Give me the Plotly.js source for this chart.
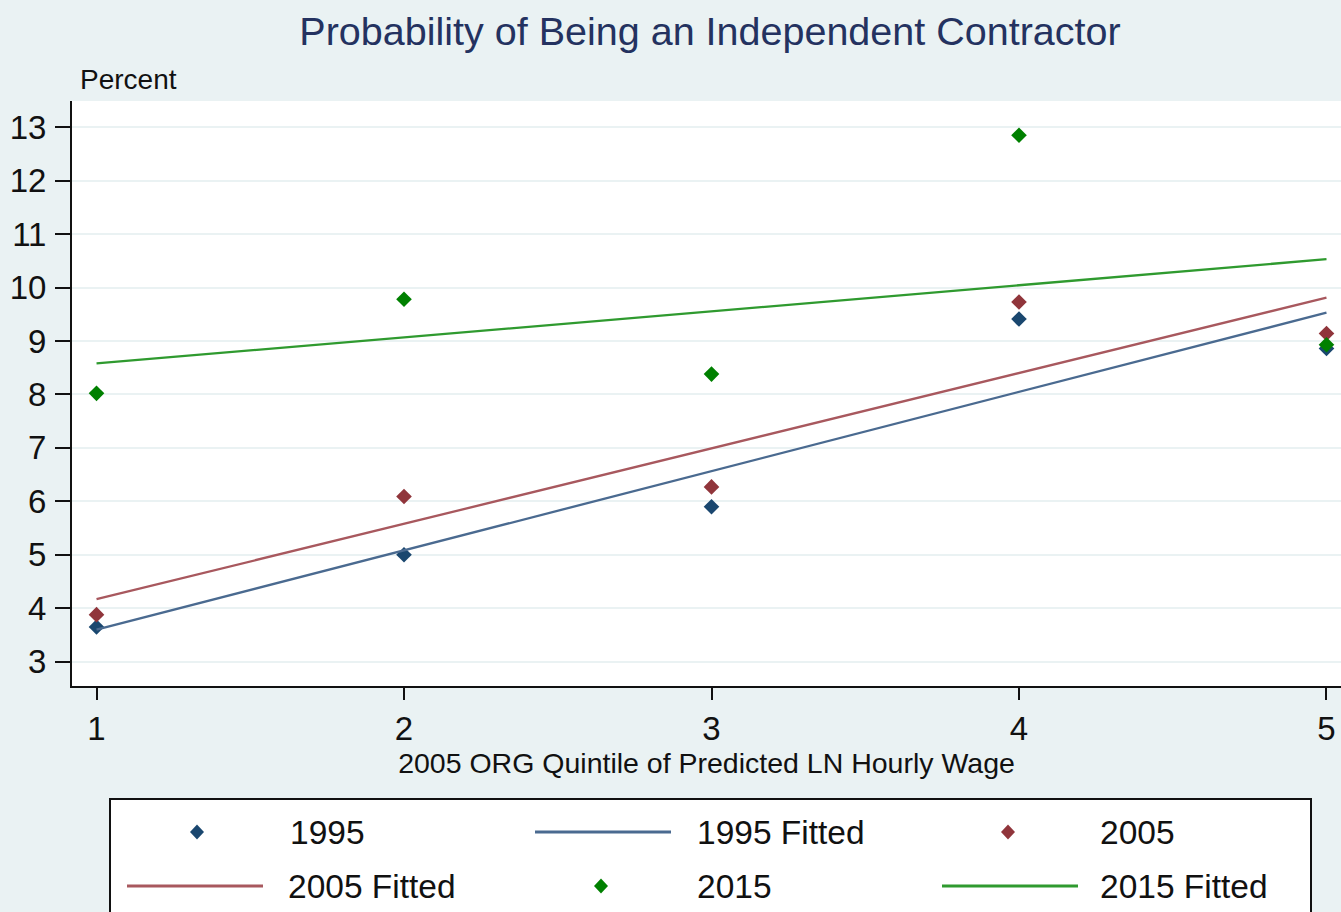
<!DOCTYPE html>
<html><head><meta charset="utf-8">
<script src="https://cdn.plot.ly/plotly-3.0.1.min.js"></script>
<style>html,body{margin:0;padding:0;background:#eaf2f3;}</style>
</head><body><div id="chart" style="width:1341px;height:912px;"></div>
<script>
// ---- data ----
const quintiles = [1, 2, 3, 4, 5];
const y1995 = [3.65, 5.00, 5.90, 9.41, 8.86];
const y2005 = [3.88, 6.09, 6.27, 9.73, 9.14];
const y2015 = [8.02, 9.78, 8.38, 12.85, 8.93];
const fitX = [1, 5];
const fit1995 = [3.60, 9.53];
const fit2005 = [4.17, 9.81];
const fit2015 = [8.58, 10.53];
const seriesNames = ['1995', '1995 Fitted', '2005', '2005 Fitted', '2015', '2015 Fitted'];
const yTicks = [3, 4, 5, 6, 7, 8, 9, 10, 11, 12, 13];
const xTicks = [1, 2, 3, 4, 5];
const titleText = 'Probability of Being an Independent Contractor';
const yTitleText = 'Percent';
const xTitleText = '2005 ORG Quintile of Predicted LN Hourly Wage';

// ---- styles ----
const FONT = 'Liberation Sans, Arial, sans-serif';
const markerColors = ['#1a476f', '#90353b', '#008000'];
const lineColors = ['#4a6a90', '#a8585e', '#2f9a2f'];
const BG = '#eaf2f3';

const W = 1341, H = 912;
const M = {l: 72, r: 0, t: 101, b: 226};
const PW = W - M.l - M.r, PH = H - M.t - M.b;
const px = X => (X - M.l) / PW;
const py = Y => (H - M.b - Y) / PH;

const pts = [y1995, y2005, y2015];
const fits = [fit1995, fit2005, fit2015];
const traces = [];
for (let i = 0; i < 3; i++) {
  traces.push({
    x: quintiles, y: pts[i], type: 'scatter', mode: 'markers', name: seriesNames[2 * i],
    marker: {symbol: 'diamond', size: 12, color: markerColors[i], line: {width: 0}},
    showlegend: false, hoverinfo: 'x+y'
  });
  traces.push({
    x: fitX, y: fits[i], type: 'scatter', mode: 'lines', name: seriesNames[2 * i + 1],
    line: {color: lineColors[i], width: 2.3},
    showlegend: false, hoverinfo: 'x+y'
  });
}

// ---- custom Stata-like legend ----
const shapes = [{
  type: 'rect', xref: 'paper', yref: 'paper', layer: 'above',
  x0: px(110), x1: px(1311), y0: py(799), y1: py(960),
  fillcolor: '#ffffff', line: {color: '#111111', width: 2}
}];
const annotations = [];
// legend entry slots: [kind, series index, symbol x (marker center or line start), text x, row y]
const slots = [
  ['m', 0, 197, 288, 832],
  ['l', 0, 535, 695, 832],
  ['m', 1, 1008, 1098, 832],
  ['l', 1, 127, 286, 886],
  ['m', 2, 601, 695, 886],
  ['l', 2, 942, 1098, 886]
];
slots.forEach((s, k) => {
  const [kind, si, sx, tx, ry] = s;
  if (kind === 'm') {
    shapes.push({
      type: 'path', xref: 'paper', yref: 'paper', layer: 'above',
      xsizemode: 'pixel', ysizemode: 'pixel', xanchor: px(sx), yanchor: py(ry),
      path: 'M -7 0 L 0 7.5 L 7 0 L 0 -7.5 Z',
      fillcolor: markerColors[si], line: {width: 0}
    });
  } else {
    shapes.push({
      type: 'line', xref: 'paper', yref: 'paper', layer: 'above',
      x0: px(sx), x1: px(sx + 136), y0: py(ry), y1: py(ry),
      line: {color: lineColors[si], width: 3}
    });
  }
  annotations.push({
    xref: 'paper', yref: 'paper', x: px(tx), y: py(ry), xanchor: 'left', yanchor: 'middle',
    text: seriesNames[k], showarrow: false,
    font: {family: FONT, size: 33.5, color: '#111111'}
  });
});
annotations.push({
  xref: 'paper', yref: 'paper', x: px(78), y: py(80), xanchor: 'left', yanchor: 'middle',
  text: yTitleText, showarrow: false, font: {family: FONT, size: 28, color: '#111111'}
});

const layout = {
  width: W, height: H,
  margin: M,
  paper_bgcolor: BG, plot_bgcolor: '#ffffff',
  showlegend: false,
  title: {
    text: titleText, xref: 'container', x: 710 / W, xanchor: 'center',
    yref: 'container', y: 1 - 31 / H, yanchor: 'middle',
    font: {family: FONT, size: 39.5, color: '#243260'}
  },
  xaxis: {
    range: [0.9203, 5.0472], tickvals: xTicks, ticktext: xTicks.map(String),
    showgrid: false, zeroline: false,
    showline: true, linecolor: '#111111', linewidth: 2,
    ticks: 'outside', ticklen: 12, tickwidth: 2, tickcolor: '#111111',
    tickfont: {family: FONT, size: 33, color: '#111111'},
    title: {text: xTitleText, standoff: 0, font: {family: FONT, size: 28.5, color: '#111111'}}
  },
  yaxis: {
    range: [2.545, 13.49], tickvals: yTicks, ticktext: yTicks.map(String),
    showgrid: true, gridcolor: BG, gridwidth: 2, zeroline: false,
    showline: true, linecolor: '#111111', linewidth: 2,
    ticks: 'outside', ticklen: 15, tickwidth: 2, tickcolor: '#111111',
    ticklabelstandoff: 2,
    tickfont: {family: FONT, size: 33, color: '#111111'}
  },
  shapes: shapes,
  annotations: annotations
};

Plotly.newPlot('chart', traces, layout, {displayModeBar: false, responsive: false});
</script>
</body></html>
